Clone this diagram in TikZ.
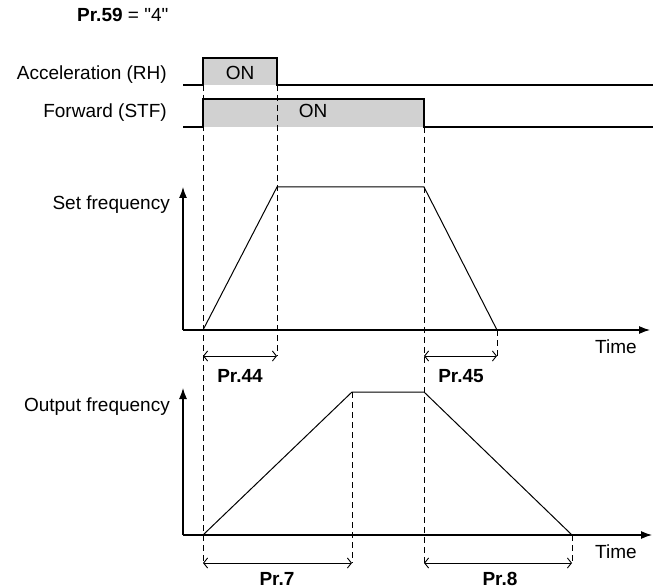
\documentclass[tikz,border=0pt]{standalone}
\usepackage{fontspec}
\setmainfont{Liberation Sans}[Ligatures=TeXOff]
\usetikzlibrary{arrows.meta}
\begin{document}
\begin{tikzpicture}[x=1pt,y=-1pt,
  lbl/.style={font=\fontsize{19}{22}\selectfont, inner sep=0pt},
  plbl/.style={font=\fontsize{19}{22}\selectfont\bfseries, inner sep=0pt, anchor=base},
  sig/.style={line width=1.1pt},
  dsh/.style={line width=0.9pt, dash pattern=on 6pt off 4pt},
  axisarrow/.style={line width=1.2pt, -{Latex[length=11pt,width=8pt]}},
  dim/.style={line width=0.9pt, {Straight Barb[length=4pt,width=10pt]}-{Straight Barb[length=4pt,width=10pt]}},
  curve/.style={line width=1pt},
  onfill/.style={fill=black!18}]
\useasboundingbox (0,0) rectangle (653,588);

% title
\node[lbl, anchor=base west] (title) at (77,22) {\textbf{Pr.59} = "4"};

% signal labels
\node[lbl, anchor=base east] (rhlbl) at (167,80) {Acceleration (RH)};
\node[lbl, anchor=base east] (stflbl) at (167,118) {Forward (STF)};

% RH signal
\fill[onfill] (203,58) rectangle (277,85);
\coordinate (rhA) at (183,85);
\coordinate (rhB) at (203,85);
\coordinate (rhC) at (203,58);
\coordinate (rhD) at (277,58);
\coordinate (rhE) at (277,85);
\coordinate (rhF) at (653,85);
\draw[sig] (rhA) -- (rhB) -- (rhC) -- (rhD) -- (rhE) -- (rhF);
\node[lbl, anchor=base] (rhon) at (240,80) {ON};

% STF signal
\fill[onfill] (203,99) rectangle (424,127);
\coordinate (stA) at (183,127);
\coordinate (stB) at (203,127);
\coordinate (stC) at (203,99);
\coordinate (stD) at (424,99);
\coordinate (stE) at (424,127);
\coordinate (stF) at (653,127);
\draw[sig] (stA) -- (stB) -- (stC) -- (stD) -- (stE) -- (stF);
\node[lbl, anchor=base] (stfon) at (313,118) {ON};

% dashed guides
\coordinate (d1t) at (203,85);   \coordinate (d1b) at (203,563);
\coordinate (d2t) at (277,85);   \coordinate (d2b) at (277,356);
\coordinate (d3t) at (424,127);  \coordinate (d3b) at (424,563);
\coordinate (d4t) at (497,330);  \coordinate (d4b) at (497,356);
\coordinate (d5t) at (352,392);  \coordinate (d5b) at (352,563);
\coordinate (d6t) at (572,535);  \coordinate (d6b) at (572,563);
\draw[dsh] (d1t) -- (d1b);
\draw[dsh] (d2t) -- (d2b);
\draw[dsh] (d3t) -- (d3b);
\draw[dsh] (d4t) -- (d4b);
\draw[dsh] (d5t) -- (d5b);
\draw[dsh] (d6t) -- (d6b);

% Set frequency plot
\coordinate (o1) at (183,330);
\coordinate (y1) at (183,187);
\coordinate (x1) at (650,330);
\draw[axisarrow] (o1) -- (y1);
\draw[axisarrow] (o1) -- (x1);
\node[lbl, anchor=base east] (setlbl) at (170,210) {Set frequency};
\node[lbl, anchor=base west] (time1) at (595,353) {Time};
\coordinate (s1) at (203,330);
\coordinate (s2) at (277,187);
\coordinate (s3) at (424,187);
\coordinate (s4) at (497,330);
\draw[curve] (s1) -- (s2) -- (s3) -- (s4);

% Pr.44 / Pr.45
\coordinate (a44l) at (203,356); \coordinate (a44r) at (277,356);
\coordinate (a45l) at (424,356); \coordinate (a45r) at (497,356);
\draw[dim] (a44l) -- (a44r);
\draw[dim] (a45l) -- (a45r);
\node[plbl] (p44) at (240,382) {Pr.44};
\node[plbl] (p45) at (461,382) {Pr.45};

% Output frequency plot
\coordinate (o2) at (183,535);
\coordinate (y2) at (183,388);
\coordinate (x2) at (652,535);
\draw[axisarrow] (o2) -- (y2);
\draw[axisarrow] (o2) -- (x2);
\node[lbl, anchor=base east] (outlbl) at (170,411) {Output frequency};
\node[lbl, anchor=base west] (time2) at (595,558) {Time};
\coordinate (u1) at (203,535);
\coordinate (u2) at (352,392);
\coordinate (u3) at (424,392);
\coordinate (u4) at (572,535);
\draw[curve] (u1) -- (u2) -- (u3) -- (u4);

% Pr.7 / Pr.8
\coordinate (a7l) at (203,563); \coordinate (a7r) at (352,563);
\coordinate (a8l) at (424,563); \coordinate (a8r) at (572,563);
\draw[dim] (a7l) -- (a7r);
\draw[dim] (a8l) -- (a8r);
\node[plbl] (p7) at (277,585) {Pr.7};
\node[plbl] (p8) at (500,585) {Pr.8};
\end{tikzpicture}
\end{document}
